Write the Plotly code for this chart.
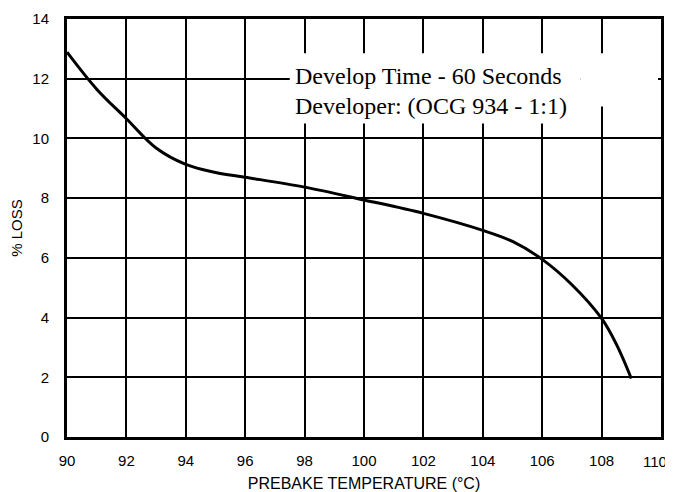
import plotly.graph_objects as go

temps = [90, 91, 92, 93, 94, 95, 96, 98, 100, 102, 104, 105, 106, 107, 108, 108.5, 109]
loss = [12.89, 11.65, 10.66, 9.68, 9.13, 8.86, 8.7, 8.37, 7.94, 7.49, 6.92, 6.55, 5.95, 5.1, 3.97, 3.1, 1.96]

x_ticks = [90, 92, 94, 96, 98, 100, 102, 104, 106, 108, 110]
y_ticks = [0, 2, 4, 6, 8, 10, 12, 14]
note_lines = ["Develop Time - 60 Seconds", "Developer: (OCG 934 - 1:1)"]
note_y = [12.08, 11.1]

sans = "Liberation Sans, Arial, Helvetica, sans-serif"
serif = "Liberation Serif, Times New Roman, serif"

fig = go.Figure()
fig.add_trace(go.Scatter(x=temps, y=loss, mode="lines",
                         line=dict(color="black", width=3, shape="spline", smoothing=1.0),
                         showlegend=False, hoverinfo="skip"))

# white label panel over the grid
fig.add_shape(type="rect", xref="x", yref="y", x0=97.5, x1=107.3, y0=10.5, y1=12.85,
              fillcolor="white", line=dict(width=0), layer="above")
fig.add_shape(type="rect", xref="x", yref="y", x0=107.3, x1=109.9, y0=11.07, y1=12.85,
              fillcolor="white", line=dict(width=0), layer="above")

for line_text, yy in zip(note_lines, note_y):
    fig.add_annotation(xref="x", yref="y", x=97.6, y=yy, xanchor="left", yanchor="middle",
                       text=line_text, align="left", showarrow=False,
                       font=dict(family=serif, size=24, color="black"))

# last x tick label drawn as annotation so it is not clipped at the page edge
x_ticktext = [str(v) for v in x_ticks[:-1]] + [""]
fig.add_annotation(xref="x", yref="paper", x=x_ticks[-1], y=0, xanchor="center", yanchor="middle",
                   xshift=-6, yshift=-24, text=str(x_ticks[-1]), showarrow=False,
                   font=dict(family=sans, size=15, color="black"))

axis_common = dict(showgrid=True, gridcolor="black", gridwidth=1.6, zeroline=False,
                   showline=True, linecolor="black", linewidth=3, mirror=True,
                   ticks="", automargin=False,
                   tickfont=dict(family=sans, size=15, color="black"))

fig.update_xaxes(range=[90, 110], tickvals=x_ticks, ticktext=x_ticktext, ticklabelstandoff=8,
                 title=dict(text="PREBAKE TEMPERATURE (°C)", standoff=10,
                            font=dict(family=sans, size=16, color="black")),
                 **axis_common)
fig.update_yaxes(range=[0, 14], tickvals=y_ticks, ticktext=[str(v) for v in y_ticks], ticklabelstandoff=12,
                 title=dict(text="% LOSS", standoff=7,
                            font=dict(family=sans, size=15, color="black")),
                 **axis_common)

# page body has an 8px margin: compensate so the plot sits where the reference has it
fig.update_layout(width=665, height=484, plot_bgcolor="white", paper_bgcolor="white",
                  margin=dict(l=59, r=12, t=11, b=55))

fig.write_html("out.html")
